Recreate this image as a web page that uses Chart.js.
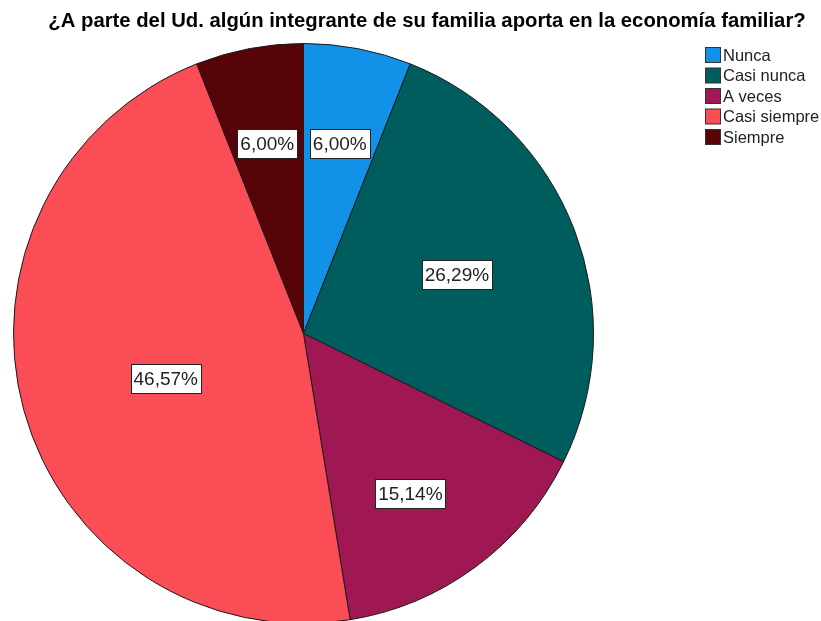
<!DOCTYPE html>
<html>
<head>
<meta charset="utf-8">
<script src="https://cdn.jsdelivr.net/npm/chart.js@4/dist/chart.umd.min.js"></script>
<style>
  body { margin: 0; overflow: hidden; background: #fff; }
  #wrap { position: absolute; left: 0; top: 0; width: 821px; height: 640px; }
</style>
</head>
<body>
<div id="wrap"><canvas id="piechart" width="821" height="640"></canvas></div>
<script>
const titleText = '¿A parte del Ud. algún integrante de su familia aporta en la economía familiar?';
const categories = ['Nunca', 'Casi nunca', 'A veces', 'Casi siempre', 'Siempre'];
const percents = [6.00, 26.29, 15.14, 46.57, 6.00];
const colors = ['#1192e8', '#005d5d', '#9f1853', '#fa4d56', '#570408'];
// label placement: fraction of radius and small angle nudge (degrees)
const labelDist = [0.667, 0.567, 0.664, 0.5, 0.667];
const labelTurn = [0, 0, 2.8, -2.8, 0];

const extras = {
  id: 'extras',
  afterDraw(chart) {
    const ctx = chart.ctx;
    ctx.save();
    // title
    ctx.fillStyle = '#000';
    ctx.font = 'bold 20.3px "Liberation Sans", Arial, sans-serif';
    ctx.textAlign = 'center';
    ctx.textBaseline = 'middle';
    ctx.fillText(titleText, 427, 21);

    // legend
    ctx.font = '16.5px "Liberation Sans", Arial, sans-serif';
    ctx.textAlign = 'left';
    categories.forEach((c, i) => {
      const y = 55 + i * 20.5;
      ctx.fillStyle = colors[i];
      ctx.fillRect(705.5, y - 7.5, 15, 15);
      ctx.strokeStyle = '#333';
      ctx.lineWidth = 1;
      ctx.strokeRect(705.5, y - 7.5, 15, 15);
      ctx.fillStyle = '#222';
      ctx.fillText(c, 723, y + 1);
    });

    // value labels
    const meta = chart.getDatasetMeta(0);
    ctx.font = '19px "Liberation Sans", Arial, sans-serif';
    ctx.textAlign = 'center';
    meta.data.forEach((arc, i) => {
      const p = arc.getProps(['x', 'y', 'startAngle', 'endAngle', 'outerRadius'], true);
      const mid = (p.startAngle + p.endAngle) / 2 + labelTurn[i] * Math.PI / 180;
      const r = p.outerRadius * labelDist[i];
      const x = p.x + Math.cos(mid) * r;
      const y = p.y + Math.sin(mid) * r;
      const txt = percents[i].toFixed(2).replace('.', ',') + '%';
      const w = ctx.measureText(txt).width + 6;
      const h = 29;
      ctx.fillStyle = '#fff';
      ctx.fillRect(Math.round(x - w / 2) + 0.5, Math.round(y - h / 2) + 0.5, Math.round(w), h);
      ctx.strokeStyle = '#222';
      ctx.lineWidth = 1;
      ctx.strokeRect(Math.round(x - w / 2) + 0.5, Math.round(y - h / 2) + 0.5, Math.round(w), h);
      ctx.fillStyle = '#222';
      ctx.fillText(txt, x, y + 1);
    });
    ctx.restore();
  }
};

const ctx = document.getElementById('piechart').getContext('2d');
const myChart = new Chart(ctx, {
  type: 'pie',
  data: {
    labels: categories,
    datasets: [{
      data: percents,
      backgroundColor: colors,
      borderColor: '#1a1a1a',
      borderWidth: 1
    }]
  },
  options: {
    responsive: false,
    animation: false,
    devicePixelRatio: 1,
    layout: { padding: { left: 13, top: 43, right: 227, bottom: 16 } },
    plugins: {
      legend: { display: false },
      title: { display: false },
      tooltip: { enabled: false }
    }
  },
  plugins: [extras]
});
</script>
</body>
</html>
